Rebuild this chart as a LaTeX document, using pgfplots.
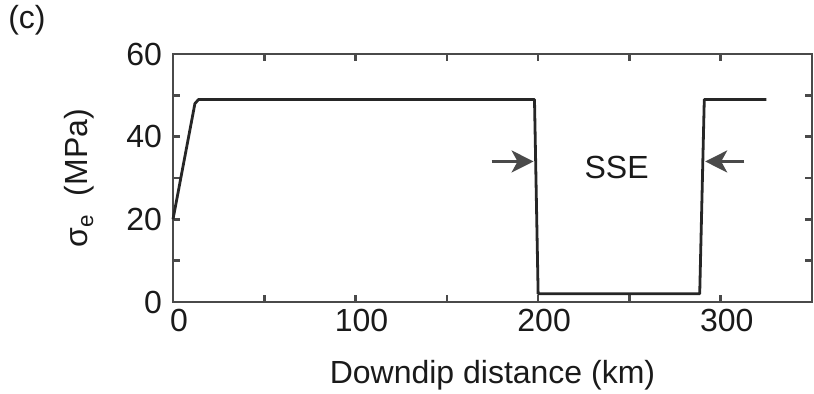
\documentclass[border=0pt]{standalone}
\usepackage{fontspec}
\setmainfont{Liberation Sans}
\usepackage{pgfplots}
\pgfplotsset{compat=1.18}
\usetikzlibrary{arrows.meta}
\definecolor{axgray}{HTML}{4A4A4A}
\definecolor{txt}{HTML}{1A1A1A}
\begin{document}
\begin{tikzpicture}
\useasboundingbox (-86.5pt,-46pt) rectangle (320.5pt,151pt);
\begin{axis}[
  at={(0,0)}, anchor=south west,
  scale only axis,
  width=319.5pt, height=124pt,
  xmin=0, xmax=350, ymin=0, ymax=60,
  xtick={0,100,200,300}, minor xtick={50,150,250,350},
  ytick={0,20,40,60}, minor ytick={10,30,50},
  tick align=inside,
  major tick length=3.5pt, minor tick length=3.5pt,
  axis line style={axgray, line width=1.3pt},
  every tick/.style={axgray, line width=1.3pt},
  every minor tick/.style={axgray, line width=1.3pt},
  tick label style={font=\fontsize{16}{19}\selectfont, text=txt},
  label style={font=\fontsize{16}{19}\selectfont, text=txt},
  /pgf/number format/assume math mode=true,
  xticklabel style={yshift=0pt, xshift=3pt},
  yticklabel style={xshift=-2pt},
  xlabel={Downdip distance (km)},
  ylabel={σ\textsubscript{e}\ \ (MPa)},
  xlabel style={yshift=-7.5pt},
  ylabel style={yshift=9pt},
  clip=false,
]
\addplot[black!85, line width=1.4pt, line join=round] coordinates {
  (0,20) (12,48) (14,49) (198,49) (200,2) (288.5,2) (291,49) (325,49)
};
\draw[axgray, line width=1.3pt, -{Stealth[length=11pt,width=11pt,inset=3pt]}] (axis cs:174.5,34) -- (axis cs:197.5,34);
\draw[axgray, line width=1.3pt, -{Stealth[length=11pt,width=11pt,inset=3pt]}] (axis cs:313,34) -- (axis cs:291.5,34);
\node[font=\fontsize{16}{19}\selectfont, text=txt] at (axis cs:243,32.5) {SSE};
\end{axis}
\node[font=\fontsize{16}{19}\selectfont, text=txt] at (-73pt,141pt) {(c)};
\end{tikzpicture}
\end{document}
